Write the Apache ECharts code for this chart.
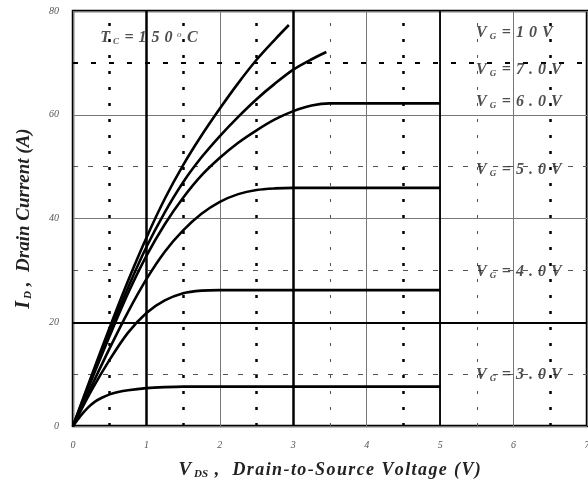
<!DOCTYPE html>
<html>
<head>
<meta charset="utf-8">
<title>Drain current vs VDS</title>
<script src="https://cdn.jsdelivr.net/npm/echarts@6/dist/echarts.min.js"></script>
<style>
    * { margin: 0; padding: 0; }
    html, body { background: #fff; }
    #main { width: 588px; height: 483px; }
</style>
</head>
<body>
<div id="main"></div>
<script>
// curves: V_DS (V) and I_D (A)
var vds3  = [0, 0.1, 0.2, 0.3, 0.4, 0.5, 0.6, 0.75, 1, 1.25, 1.5, 5];
var id3   = [0, 1.9, 3.5, 4.7, 5.5, 6.1, 6.5, 6.9, 7.3, 7.5, 7.6, 7.6];
var vds4  = [0, 0.25, 0.5, 0.75, 1, 1.25, 1.5, 1.75, 2, 5];
var id4   = [0, 6.8, 12.8, 18.0, 21.8, 24.2, 25.6, 26.1, 26.2, 26.2];
var vds5  = [0, 0.25, 0.5, 0.75, 1, 1.25, 1.5, 1.75, 2, 2.25, 2.5, 2.75, 3, 5];
var id5   = [0, 7.6, 15.0, 22.0, 28.3, 33.6, 37.7, 40.9, 43.2, 44.7, 45.5, 45.8, 45.9, 45.9];
var vds6  = [0, 0.25, 0.5, 0.75, 1, 1.25, 1.5, 1.75, 2, 2.25, 2.5, 2.75, 3, 3.25, 3.5, 5];
var id6   = [0, 8.8, 17.4, 25.6, 32.8, 38.9, 44.0, 48.3, 51.7, 54.6, 57.0, 59.1, 60.7, 61.8, 62.2, 62.2];
var vds7  = [0, 0.25, 0.5, 0.75, 1, 1.25, 1.5, 1.75, 2, 2.25, 2.5, 2.75, 3, 3.25, 3.45];
var id7   = [0, 9.2, 18.2, 26.7, 34.5, 41.2, 47.0, 51.8, 55.9, 59.6, 63.0, 66.0, 68.7, 70.7, 72.1];
var vds10 = [0, 0.25, 0.5, 0.75, 1, 1.25, 1.5, 1.75, 2, 2.25, 2.5, 2.75, 2.94];
var id10  = [0, 9.6, 19.0, 28.0, 36.3, 43.8, 50.3, 56.0, 61.2, 66.1, 70.6, 74.5, 77.3];

// grid lines of the datasheet plot
var boldX = [1, 3];
var midX = [5];
var dotBoldX = [0.5, 1.5, 2.5, 4.5, 6.5];
var dotThinX = [3.5, 5.5];
var boldY = [20];
var dashBoldY = [70];
var dashThinY = [10, 30, 50];

// annotations: main letter, subscript, rest, anchor in data units
var noteMain = ['T', 'V', 'V', 'V', 'V', 'V', 'V'];
var noteSub  = ['C', 'G', 'G', 'G', 'G', 'G', 'G'];
var noteRest = ['=150°C', '=10V', '=7.0V', '=6.0V', '=5.0V', '=4.0V', '=3.0V'];
var noteX = [0.37, 5.49, 5.49, 5.49, 5.49, 5.49, 5.49];
var noteY = [74.8, 75.7, 68.6, 62.4, 49.3, 29.7, 9.8];

function pairs(xs, ys) {
    return xs.map(function (x, i) { return [x, ys[i]]; });
}

// wrap every character in its own rich token so it can be spaced out
function spaced(str, style) {
    return str.split('').map(function (c) {
        if (c === '°') return '{o|o}';
        return '{' + style + '|' + c + '}';
    }).join('');
}

var serif = 'Liberation Serif, Times New Roman, serif';
var ink = '#222';
function bi(size, extra) {
    var s = { fontFamily: serif, fontStyle: 'italic', fontWeight: 'bold', fontSize: size, color: ink };
    for (var k in extra) s[k] = extra[k];
    return s;
}

var richNote = {
    v: bi(16, { padding: [0, 3, 0, 0] }),
    s: bi(9, { verticalAlign: 'bottom', padding: [6, 3, 0, 0] }),
    o: { fontFamily: serif, fontStyle: 'italic', fontSize: 9, color: ink, verticalAlign: 'top', padding: [0, 3, 0, 2] },
    t: bi(16, { padding: [0, 2.5, 0, 2.5] })
};

function vline(xs, style) {
    return xs.map(function (x) { return { xAxis: x, lineStyle: style }; });
}
function hline(ys, style) {
    return ys.map(function (y) { return { yAxis: y, lineStyle: style }; });
}

var gridMarks = []
    .concat(vline(boldX, { color: '#000', width: 2.5, type: 'solid' }))
    .concat(vline(midX, { color: '#000', width: 1.8, type: 'solid' }))
    .concat(vline(dotBoldX, { color: '#000', width: 2.5, type: [3, 13] }))
    .concat(vline(dotThinX, { color: '#555', width: 1, type: [3, 13] }))
    .concat(hline(boldY, { color: '#000', width: 2, type: 'solid' }))
    .concat(hline(dashBoldY, { color: '#000', width: 2, type: [5, 13] }))
    .concat(hline(dashThinY, { color: '#555', width: 1, type: [5, 10] }));

function curve(name, xs, ys) {
    return {
        name: name, type: 'line', data: pairs(xs, ys),
        showSymbol: false, smooth: 0.3, silent: true, z: 5,
        lineStyle: { color: '#000', width: 2.6 }
    };
}

var chart = echarts.init(document.getElementById('main'));
chart.setOption({
    animation: false,
    backgroundColor: '#fff',
    grid: {
        left: 73, right: 1, top: 11, bottom: 57, containLabel: false, outerBoundsMode: 'none',
        show: true, borderColor: '#000', borderWidth: 2.5
    },
    xAxis: {
        type: 'value', min: 0, max: 7, interval: 1,
        name: '{v|V}{s|DS}' + spaced(' ,  Drain-to-Source Voltage (V)', 't'),
        nameLocation: 'middle', nameGap: 35,
        nameTextStyle: { rich: {
            v: bi(19, { padding: [0, 3, 0, 0] }),
            s: bi(11, { verticalAlign: 'bottom', padding: [7, 0, 0, 0] }),
            t: bi(18, { padding: [0, 0.7, 0, 0.7] })
        } },
        axisLine: { show: false }, axisTick: { show: false },
        axisLabel: { margin: 14, fontFamily: serif, fontStyle: 'italic', fontSize: 10, color: '#555' },
        splitLine: { lineStyle: { color: '#777', width: 1 } }
    },
    yAxis: {
        type: 'value', min: 0, max: 80, interval: 20,
        name: '{v|I}{s|D}{t| ,  Drain Current (A)}',
        nameLocation: 'middle', nameGap: 39,
        nameTextStyle: { rich: {
            v: bi(20, { padding: [0, 2, 0, 0] }),
            s: bi(11, { verticalAlign: 'bottom', padding: [7, 0, 0, 0] }),
            t: bi(19)
        } },
        axisLine: { show: false }, axisTick: { show: false },
        axisLabel: { margin: 14, fontFamily: serif, fontStyle: 'italic', fontSize: 10, color: '#555' },
        splitLine: { lineStyle: { color: '#777', width: 1 } }
    },
    series: [
        {
            type: 'line', data: [], silent: true, z: 2,
            markLine: { silent: true, symbol: 'none', label: { show: false }, animation: false, data: gridMarks }
        },
        curve('VG=3.0V', vds3, id3),
        curve('VG=4.0V', vds4, id4),
        curve('VG=5.0V', vds5, id5),
        curve('VG=6.0V', vds6, id6),
        curve('VG=7.0V', vds7, id7),
        curve('VG=10V', vds10, id10),
        {
            type: 'scatter', data: pairs(noteX, noteY), symbolSize: 0, silent: true, z: 6,
            label: {
                show: true, position: 'right', distance: 0,
                formatter: function (p) {
                    var i = p.dataIndex;
                    return '{v|' + noteMain[i] + '}{s|' + noteSub[i] + '}' + spaced(noteRest[i], 't');
                },
                rich: richNote
            }
        }
    ]
});
</script>
</body>
</html>
